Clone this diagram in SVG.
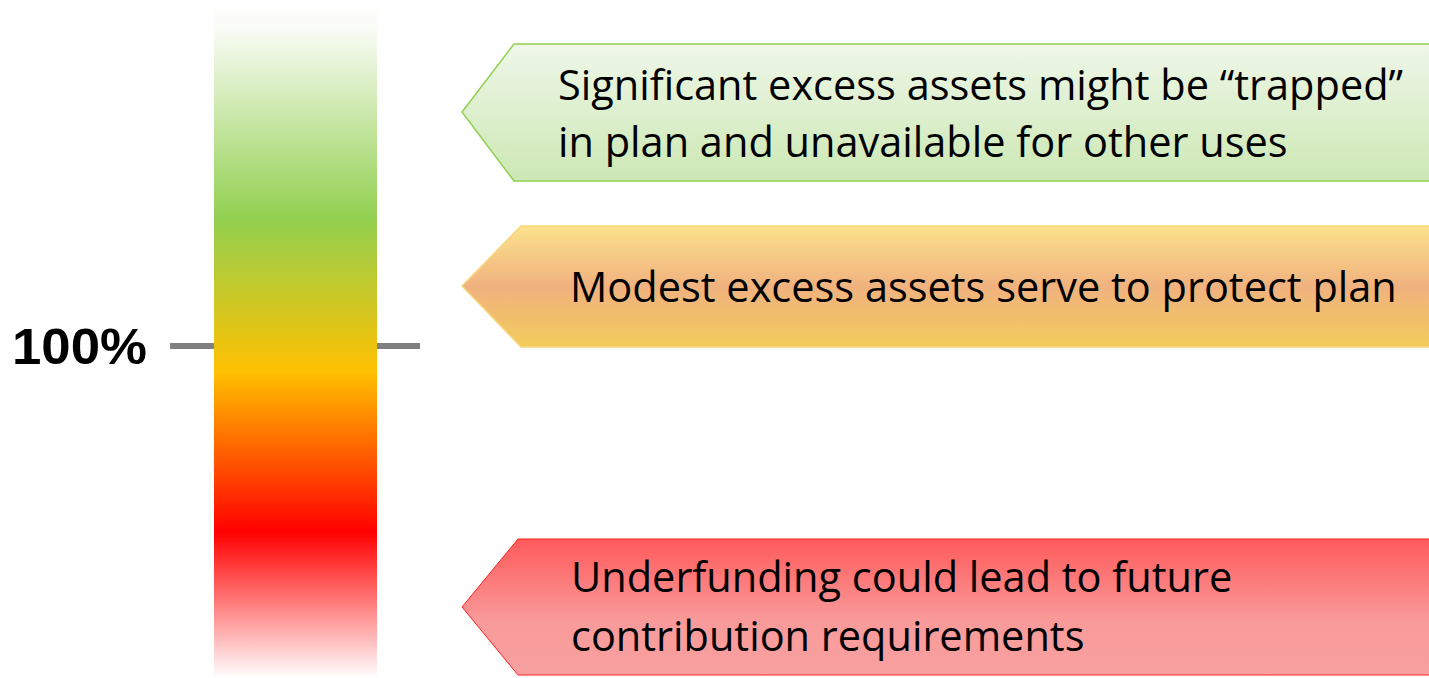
<svg xmlns="http://www.w3.org/2000/svg" width="1429" height="678" viewBox="0 0 1429 678">
  <defs>
    <linearGradient id="scale" x1="0" y1="0" x2="0" y2="1">
      <stop offset="0" stop-color="#ffffff"/>
      <stop offset="0.04" stop-color="#fafcf7"/>
      <stop offset="0.322" stop-color="#92d050"/>
      <stop offset="0.549" stop-color="#ffc000"/>
      <stop offset="0.785" stop-color="#ff0000"/>
      <stop offset="1" stop-color="#ffffff"/>
    </linearGradient>
    <linearGradient id="fillGreen" x1="0" y1="0" x2="0" y2="1">
      <stop offset="0" stop-color="#eff7e9"/>
      <stop offset="1" stop-color="#cce8b4"/>
    </linearGradient>
    <linearGradient id="fillAmber" x1="0" y1="0" x2="0" y2="1">
      <stop offset="0" stop-color="#fce28c"/>
      <stop offset="0.5" stop-color="#f0b27f"/>
      <stop offset="1" stop-color="#f2cb5a"/>
    </linearGradient>
    <linearGradient id="fillRed" x1="0" y1="0" x2="0" y2="1">
      <stop offset="0" stop-color="#ff5a5a"/>
      <stop offset="0.6" stop-color="#f99a9a"/>
      <stop offset="1" stop-color="#f8a0a0"/>
    </linearGradient>
    <style>
      .label { font-family: "Open Sans", "Liberation Sans", sans-serif; font-size: 41.5px; fill: #000; }
      .pct { font-family: "Liberation Sans", Arial, sans-serif; font-weight: bold; font-size: 50px; fill: #000; }
      .tick { stroke: #808080; stroke-width: 6; }
    </style>
  </defs>

  <!-- funding scale bar -->
  <g id="scale-bar">
    <line class="tick" x1="170" y1="346" x2="420" y2="346"/>
    <rect x="214" y="0" width="163" height="678" fill="url(#scale)"/>
    <text class="pct" x="12" y="364" textLength="135" lengthAdjust="spacingAndGlyphs">100%</text>
  </g>

  <!-- overfunded callout -->
  <g id="callout-excess">
    <polygon points="462,112 514,44 1440,44 1440,181 514,181" fill="url(#fillGreen)" stroke="#92d050" stroke-width="1.5"/>
    <text class="label" x="558" y="100">Significant excess assets might be “trapped”</text>
    <text class="label" x="558" y="157">in plan and unavailable for other uses</text>
  </g>

  <!-- near-100% callout -->
  <g id="callout-modest">
    <polygon points="462,286 521,226 1440,226 1440,347 521,347" fill="url(#fillAmber)" stroke="#f9d77e" stroke-width="1.5"/>
    <text class="label" x="570" y="302">Modest excess assets serve to protect plan</text>
  </g>

  <!-- underfunded callout -->
  <g id="callout-under">
    <polygon points="462,607 518,539 1440,539 1440,675 518,675" fill="url(#fillRed)" stroke="#ff2020" stroke-width="1"/>
    <text class="label" x="571" y="592">Underfunding could lead to future</text>
    <text class="label" x="571" y="651">contribution requirements</text>
  </g>
</svg>
